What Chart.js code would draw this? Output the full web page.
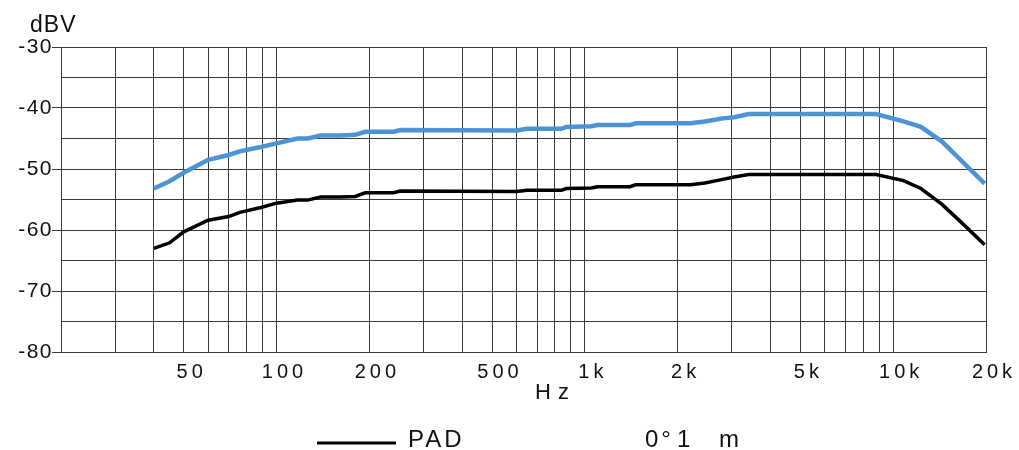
<!DOCTYPE html>
<html>
<head>
<meta charset="utf-8">
<script src="https://cdn.jsdelivr.net/npm/chart.js@4"></script>
<style>
  html, body { margin: 0; padding: 0; background: #fff; }
  canvas { display: block; }
</style>
</head>
<body>
<canvas id="responseChart" width="1019" height="450"></canvas>
<script>
// frequency response
const freqHz = [40, 45, 50, 60, 70, 76, 89, 100, 117, 126, 139, 161, 180, 194, 240, 252,
  600, 650, 840, 870, 1050, 1100, 1400, 1460, 2200, 2450, 2800, 3050, 3400, 8800,
  10800, 12300, 14400, 17000, 19800];
const levelDbv = [-53.2, -52.0, -50.6, -48.5, -47.7, -47.1, -46.4, -45.8, -45.0, -45.0, -44.5, -44.5, -44.4, -43.9, -43.9, -43.6,
  -43.7, -43.4, -43.4, -43.1, -43.0, -42.8, -42.8, -42.5, -42.5, -42.2, -41.7, -41.5, -41.0, -41.0,
  -42.2, -43.1, -45.5, -49.1, -52.4];
const levelPadDbv = [-63.0, -62.1, -60.3, -58.4, -57.8, -57.1, -56.3, -55.6, -55.1, -55.1, -54.6, -54.6, -54.5, -53.9, -53.9, -53.6,
  -53.7, -53.5, -53.5, -53.2, -53.1, -52.9, -52.9, -52.6, -52.6, -52.3, -51.7, -51.3, -50.9, -50.9,
  -51.9, -53.2, -55.8, -59.2, -62.4];

const gridFreqs = [30, 40, 50, 60, 70, 80, 90, 100, 200, 300, 400, 500, 600, 700, 800, 900,
  1000, 2000, 3000, 4000, 5000, 6000, 7000, 8000, 9000, 10000, 20000];
const labelFreqs = [50, 100, 200, 500, 1000, 2000, 5000, 10000, 20000];
const labelTexts = ["50", "100", "200", "500", "1k", "2k", "5k", "10k", "20k"];

const FONT = "'Liberation Sans', Arial, sans-serif";
const GRID = "#3a3a3a";
Chart.defaults.font.family = FONT;

// x labels are spaced wider than the y labels (y labels are drawn after the datasets, z: 1)
const spacingPlugin = {
  id: "spacing",
  beforeUpdate(chart) { chart.ctx.letterSpacing = "4px"; },
  beforeDraw(chart) { chart.ctx.letterSpacing = "4px"; },
  afterDatasetsDraw(chart) { chart.ctx.letterSpacing = "1.5px"; },
};

const textPlugin = {
  id: "texts",
  afterDraw(chart) {
    const ctx = chart.ctx;
    const area = chart.chartArea;
    const pad = chart.data.datasets[1];
    ctx.save();
    ctx.fillStyle = "#111";
    ctx.textBaseline = "alphabetic";
    ctx.textAlign = "left";

    ctx.letterSpacing = "1px";
    ctx.font = "23px " + FONT;
    ctx.fillText("dBV", 30, 32);

    ctx.letterSpacing = "7px";
    ctx.font = "22px " + FONT;
    ctx.textAlign = "center";
    ctx.fillText("Hz", (area.left + area.right) / 2 + 32, 399);

    // legend
    ctx.strokeStyle = pad.borderColor;
    ctx.lineWidth = 3;
    ctx.beginPath();
    ctx.moveTo(317, 443);
    ctx.lineTo(396, 443);
    ctx.stroke();
    ctx.textAlign = "left";
    ctx.letterSpacing = "3px";
    ctx.font = "24px " + FONT;
    ctx.fillText(pad.label, 408, 447);
    ctx.fillText("0°", 645, 447);
    ctx.fillText("1", 677, 447);
    ctx.fillText("m", 719, 447);
    ctx.restore();
  },
};

const datasets = [
  {
    label: "0°",
    data: freqHz.map((f, i) => ({ x: f, y: levelDbv[i] })),
    borderColor: "#4d94d4",
    borderWidth: 4.5,
    pointRadius: 0,
    tension: 0,
  },
  {
    label: "PAD",
    data: freqHz.map((f, i) => ({ x: f, y: levelPadDbv[i] })),
    borderColor: "#000",
    borderWidth: 3.5,
    pointRadius: 0,
    tension: 0,
  },
];

new Chart(document.getElementById("responseChart"), {
  type: "line",
  data: { datasets },
  options: {
    responsive: false,
    animation: false,
    layout: { padding: { top: 47, right: 33, left: 0, bottom: 0 } },
    plugins: { legend: { display: false }, tooltip: { enabled: false } },
    scales: {
      x: {
        type: "logarithmic",
        min: 20,
        max: 20000,
        afterBuildTicks: (s) => { s.ticks = gridFreqs.map((v) => ({ value: v })); },
        afterFit: (s) => { s.height = 98; },
        ticks: {
          autoSkip: false,
          maxRotation: 0,
          minRotation: 0,
          padding: 8,
          labelOffset: 8,
          color: "#111",
          font: { size: 20 },
          callback: (v) => {
            const i = labelFreqs.indexOf(v);
            return i < 0 ? "" : labelTexts[i];
          },
        },
        grid: { color: GRID, lineWidth: 1, drawTicks: false },
        border: { color: GRID, width: 1 },
      },
      y: {
        min: -80,
        max: -30,
        afterFit: (s) => { s.width = 61; },
        ticks: {
          z: 1,
          stepSize: 5,
          padding: -1,
          color: "#111",
          font: { size: 21 },
          callback: (v) => (v % 10 === 0 ? String(v) : ""),
        },
        grid: {
          color: GRID,
          lineWidth: 1,
          tickLength: 9,
          tickColor: (c) => (c.tick && c.tick.value % 10 === 0 ? GRID : "rgba(0,0,0,0)"),
        },
        border: { color: GRID, width: 1 },
      },
    },
  },
  plugins: [spacingPlugin, textPlugin],
});
</script>
</body>
</html>
